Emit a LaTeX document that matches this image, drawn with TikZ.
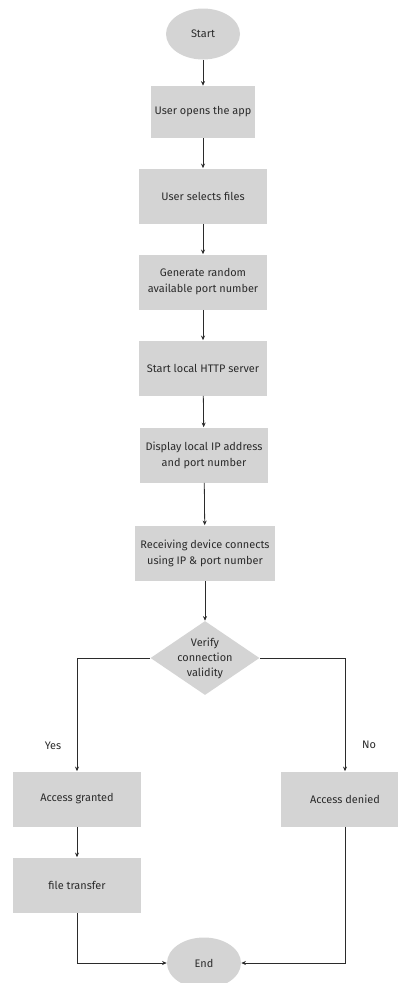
\documentclass[tikz,border=0pt]{standalone}
\usepackage{fontspec}
\setmainfont{Fira Sans}
\usetikzlibrary{shapes.geometric,arrows.meta}

\definecolor{boxgray}{HTML}{D4D4D4}
\definecolor{inkgray}{HTML}{2B2B2B}

\tikzset{
  stepbox/.style={rectangle, fill=boxgray, minimum width=96pt, minimum height=41.25pt,
    inner sep=2pt, align=center, font=\fontsize{8.2}{12}\selectfont, text=inkgray},
  terminal/.style={ellipse, fill=boxgray, minimum width=55.5pt, minimum height=38.25pt,
    inner sep=0pt, font=\fontsize{8.2}{12}\selectfont, text=inkgray},
  decision/.style={diamond, fill=boxgray, minimum width=81.75pt, minimum height=55.5pt,
    inner sep=0pt},
  arrow/.style={draw=inkgray, line width=0.6pt, -{Stealth[length=3.5pt,width=3pt]}},
  branch/.style={font=\fontsize{8.2}{12}\selectfont, text=inkgray}
}

\begin{document}
\begin{tikzpicture}[x=0.75pt, y=-0.75pt]
\useasboundingbox (0,0) rectangle (398,983);
\clip (0,0) rectangle (398,983);

\node[terminal] (start) at (203,34) {Start};
\node[stepbox, minimum width=78pt, minimum height=39pt] (open) at (203,112) {User opens the app};
\node[stepbox] (select) at (203,196) {User selects files};
\node[stepbox] (port) at (203,282) {Generate random\\available port number};
\node[stepbox] (server) at (203,368) {Start local HTTP server};
\node[stepbox] (display) at (204,455) {Display local IP address\\and port number};
\node[stepbox, minimum width=105pt] (connect) at (205,553) {Receiving device connects\\using IP \& port number};
\node[decision, label={[branch, align=center, font=\fontsize{8.2}{11.25}\selectfont]center:Verify\\connection\\validity}] (verify) at (205,658) {};
\node[stepbox] (granted) at (77,799) {Access granted};
\node[stepbox] (denied) at (345,799) {Access denied};
\node[stepbox] (transfer) at (77,885) {file transfer};
\node[terminal] (end) at (204,963) {End};

\node[branch] (yes) at (53,746) {Yes};
\node[branch] (no) at (369,745) {No};

\draw[arrow] (start) -- (open);
\draw[arrow] (open) -- (select);
\draw[arrow] (select) -- (port);
\draw[arrow] (port) -- (server);
\draw[arrow] (server) -- (display);
\draw[arrow] (display) -- (connect);
\draw[arrow] (connect) -- (verify);
\draw[arrow] (verify.west) -| (granted.north);
\draw[arrow] (verify.east) -| (denied.north);
\draw[arrow] (granted) -- (transfer);
\draw[arrow] (transfer.south) |- (end.west);
\draw[arrow] (denied.south) |- (end.east);
\end{tikzpicture}
\end{document}
